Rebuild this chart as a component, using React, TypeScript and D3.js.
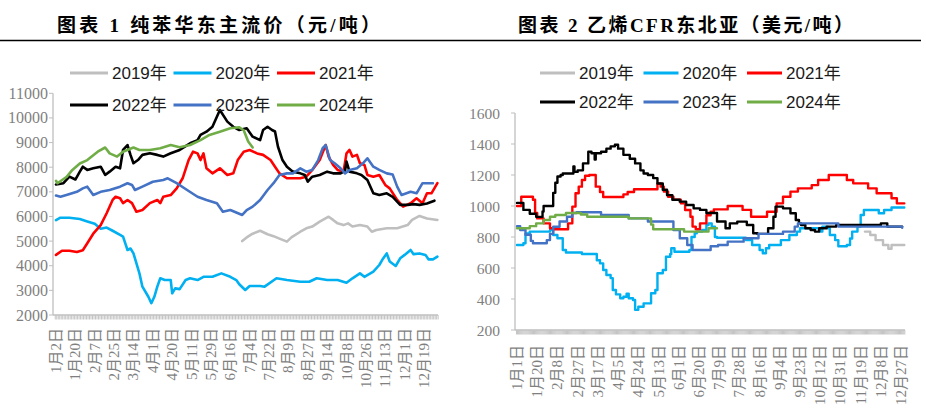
import React from 'react';
import * as d3 from 'd3';

// ---------- shared ----------
const SERIES_NAMES = ['2019年', '2020年', '2021年', '2022年', '2023年', '2024年'];
const SERIES_COLORS = ['#BFBFBF', '#00B0F0', '#FF0000', '#000000', '#4472C4', '#70AD47'];

// ---------- chart 1: benzene East China (trading-day index, value) ----------
const LEFT_X_LABELS = ['1月2日', '1月20日', '2月7日', '2月25日', '3月14日', '4月1日', '4月20日', '5月11日', '5月29日', '6月16日', '7月4日', '7月22日', '8月9日', '8月27日', '9月14日', '10月8日', '10月26日', '11月13日', '12月1日', '12月19日'];
const LEFT_LABEL_STEP = 13;
const LEFT_CATEGORY_COUNT = 257;
const LEFT_Y_TICKS = [2000, 3000, 4000, 5000, 6000, 7000, 8000, 9000, 10000, 11000];

const benzene2019: [number, number][] = [[125, 5000], [128, 5150], [132, 5300], [137, 5420], [142, 5280], [146, 5200], [150, 5100], [155, 4980], [158, 5150], [164, 5380], [168, 5520], [172, 5590], [177, 5790], [183, 5990], [186, 5860], [189, 5720], [193, 5650], [196, 5720], [199, 5590], [204, 5650], [209, 5590], [212, 5380], [215, 5450], [222, 5520], [229, 5520], [236, 5650], [239, 5860], [244, 6020], [249, 5920], [256, 5860]];
const benzene2020: [number, number][] = [[0, 5850], [3, 5950], [9, 5950], [16, 5900], [21, 5800], [26, 5700], [30, 5500], [34, 5550], [38, 5420], [43, 5250], [45, 5180], [48, 4640], [50, 4700], [52, 4500], [54, 4100], [56, 3690], [58, 3150], [62, 2740], [64, 2480], [66, 2740], [68, 3150], [70, 3490], [73, 3420], [77, 3420], [78, 2880], [80, 3080], [83, 3050], [87, 3420], [90, 3490], [95, 3420], [99, 3550], [105, 3550], [111, 3690], [117, 3550], [121, 3420], [123, 3250], [127, 3015], [130, 3180], [137, 3180], [140, 3150], [148, 3490], [155, 3420], [164, 3350], [170, 3350], [175, 3490], [182, 3420], [189, 3420], [195, 3310], [199, 3490], [204, 3690], [207, 3550], [213, 3760], [217, 4030], [219, 4240], [222, 4500], [224, 4170], [228, 3990], [231, 4300], [234, 4440], [238, 4640], [240, 4470], [244, 4500], [248, 4440], [250, 4260], [253, 4260], [256, 4370]];
const benzene2021: [number, number][] = [[0, 4440], [4, 4610], [9, 4610], [14, 4560], [18, 4630], [21, 4910], [25, 5300], [30, 5650], [34, 6130], [38, 6670], [40, 6800], [43, 6740], [45, 6540], [48, 6670], [51, 6540], [54, 6190], [58, 6260], [63, 6540], [68, 6670], [70, 6540], [72, 6800], [77, 6870], [81, 7140], [85, 7550], [89, 8290], [92, 8630], [95, 8560], [97, 8290], [99, 8560], [101, 7955], [105, 7750], [110, 7955], [115, 7685], [119, 7750], [122, 8290], [126, 8630], [130, 8700], [135, 8560], [139, 8500], [144, 8290], [147, 8020], [150, 7750], [155, 7550], [164, 7550], [168, 7615], [172, 7890], [177, 8290], [181, 8900], [183, 8430], [186, 8090], [189, 7890], [193, 7820], [195, 8565], [197, 8700], [199, 8430], [202, 8500], [204, 8160], [207, 8090], [209, 7685], [213, 7615], [217, 7685], [221, 7280], [224, 7140], [229, 6670], [233, 6400], [238, 6540], [242, 6740], [246, 6540], [249, 6940], [252, 6940], [256, 7350]];
const benzene2022: [number, number][] = [[0, 7300], [5, 7350], [9, 7615], [13, 7500], [16, 7820], [18, 8020], [21, 7890], [25, 7955], [30, 8020], [33, 7685], [36, 7820], [40, 8020], [43, 7955], [45, 8700], [48, 8900], [50, 8500], [52, 8160], [55, 8290], [58, 8500], [63, 8565], [68, 8500], [72, 8430], [77, 8565], [83, 8700], [90, 8970], [95, 9100], [97, 9310], [101, 9440], [105, 9640], [110, 10320], [115, 9850], [119, 9640], [123, 9510], [128, 9580], [132, 9240], [137, 9100], [139, 9510], [142, 9640], [145, 9510], [147, 9450], [149, 8830], [152, 8290], [155, 8020], [159, 7820], [164, 7750], [167, 7685], [169, 7410], [172, 7615], [177, 7685], [182, 7820], [186, 7750], [191, 7750], [194, 7850], [195, 8225], [197, 7820], [202, 7750], [205, 7685], [209, 7480], [213, 6940], [217, 6870], [222, 6940], [226, 6800], [231, 6470], [236, 6470], [240, 6500], [244, 6470], [249, 6530], [254, 6640]];
const benzene2023: [number, number][] = [[0, 6850], [3, 6800], [7, 6870], [14, 7000], [18, 7140], [21, 7210], [25, 6870], [30, 7000], [36, 7075], [43, 7210], [48, 7350], [51, 7280], [53, 7075], [58, 7210], [65, 7410], [72, 7480], [75, 7550], [81, 7350], [88, 7075], [95, 6800], [101, 6670], [108, 6535], [112, 6190], [117, 6260], [125, 6060], [128, 6260], [132, 6400], [137, 6670], [142, 7075], [146, 7350], [150, 7685], [155, 7750], [159, 7750], [164, 7955], [168, 7820], [172, 7890], [176, 8290], [179, 8770], [181, 8900], [184, 8290], [187, 8160], [191, 7955], [194, 7750], [197, 7890], [202, 7955], [206, 8160], [209, 8360], [213, 8020], [217, 7890], [222, 7750], [226, 7700], [229, 7210], [232, 6870], [238, 7000], [242, 6940], [246, 7350], [253, 7350]];
const benzene2024: [number, number][] = [[0, 7450], [1, 7350], [7, 7600], [11, 7890], [16, 8150], [21, 8290], [28, 8630], [33, 8800], [36, 8560], [41, 8430], [45, 8630], [52, 8800], [56, 8700], [63, 8700], [70, 8770], [77, 8900], [83, 8810], [90, 8900], [97, 9100], [103, 9310], [110, 9440], [117, 9580], [123, 9620], [126, 9500], [129, 9040], [132, 8800]];

// ---------- chart 2: ethylene CFR NE Asia (day of year, value) ----------
const RIGHT_X_LABELS = ['1月1日', '1月20日', '2月8日', '2月27日', '3月17日', '4月5日', '4月24日', '5月13日', '6月1日', '6月20日', '7月9日', '7月28日', '8月16日', '9月4日', '9月23日', '10月12日', '10月31日', '11月19日', '12月8日', '12月27日'];
const RIGHT_LABEL_STEP = 19;
const RIGHT_DAY_COUNT = 365;
const RIGHT_Y_TICKS = [200, 400, 600, 800, 1000, 1200, 1400, 1600];

const ethylene2019: [number, number][] = [[327, 835], [332, 813], [337, 780], [344, 748], [349, 724], [352, 748], [364, 748]];
const ethylene2020: [number, number][] = [[0, 748], [6, 760], [8, 823], [12, 835], [31, 845], [34, 813], [38, 792], [43, 716], [46, 700], [61, 690], [75, 650], [78, 630], [81, 587], [84, 555], [88, 535], [90, 458], [93, 430], [97, 405], [100, 415], [103, 435], [105, 405], [109, 394], [111, 330], [114, 350], [119, 372], [126, 437], [130, 458], [132, 566], [137, 587], [140, 673], [144, 690], [145, 727], [148, 705], [162, 716], [164, 800], [167, 824], [169, 835], [174, 845], [178, 877], [180, 888], [183, 866], [186, 800], [188, 795], [215, 780], [221, 748], [228, 716], [231, 695], [234, 727], [237, 748], [248, 780], [256, 813], [263, 835], [266, 856], [285, 835], [287, 867], [292, 856], [294, 813], [299, 780], [302, 740], [310, 748], [313, 790], [315, 835], [320, 867], [323, 942], [326, 974], [340, 953], [345, 974], [352, 990], [364, 990]];
const ethylene2021: [number, number][] = [[0, 1000], [4, 1060], [15, 1040], [17, 955], [19, 920], [25, 888], [31, 856], [34, 850], [48, 888], [52, 996], [55, 1082], [58, 1125], [61, 1168], [64, 1195], [68, 1200], [74, 1125], [78, 1090], [81, 1058], [100, 1075], [104, 1090], [110, 1108], [132, 1146], [135, 1125], [138, 1093], [142, 1060], [147, 1040], [154, 1017], [158, 974], [163, 931], [165, 867], [168, 850], [172, 888], [178, 940], [182, 963], [185, 978], [198, 1000], [212, 975], [220, 931], [235, 963], [244, 1017], [250, 1060], [257, 1093], [264, 1114], [277, 1135], [283, 1168], [293, 1200], [310, 1168], [316, 1146], [330, 1114], [338, 1082], [352, 1050], [357, 1017], [364, 1017]];
const ethylene2022: [number, number][] = [[0, 1020], [6, 975], [12, 950], [18, 930], [24, 965], [25, 1000], [34, 1085], [36, 1150], [38, 1190], [41, 1200], [43, 1210], [53, 1255], [54, 1220], [57, 1230], [62, 1275], [67, 1350], [70, 1340], [73, 1300], [74, 1340], [79, 1350], [84, 1370], [88, 1385], [92, 1395], [95, 1370], [100, 1330], [106, 1305], [111, 1275], [116, 1230], [119, 1210], [123, 1200], [128, 1180], [132, 1145], [137, 1105], [141, 1070], [146, 1040], [153, 1028], [159, 1006], [166, 985], [172, 975], [178, 955], [188, 900], [196, 856], [200, 888], [207, 899], [216, 877], [222, 824], [226, 820], [236, 856], [241, 931], [243, 996], [250, 985], [257, 953], [262, 910], [265, 888], [267, 877], [271, 856], [276, 845], [280, 835], [284, 856], [291, 867], [300, 877], [342, 888], [348, 867], [362, 867]];
const ethylene2023: [number, number][] = [[0, 870], [3, 845], [8, 815], [13, 775], [15, 760], [28, 780], [31, 820], [34, 866], [40, 900], [47, 931], [52, 955], [56, 960], [79, 942], [105, 920], [123, 900], [147, 845], [153, 792], [160, 748], [165, 716], [182, 740], [189, 748], [198, 770], [213, 792], [227, 820], [250, 835], [261, 867], [264, 888], [302, 867], [362, 860]];
const ethylene2024: [number, number][] = [[0, 856], [12, 870], [18, 888], [25, 910], [31, 931], [36, 942], [46, 955], [60, 945], [66, 931], [105, 920], [126, 880], [128, 850], [157, 835], [180, 856], [188, 856]];

const LEFT_SERIES = [benzene2019, benzene2020, benzene2021, benzene2022, benzene2023, benzene2024];
const RIGHT_SERIES = [ethylene2019, ethylene2020, ethylene2021, ethylene2022, ethylene2023, ethylene2024];

const SERIF = '"Liberation Serif", "Times New Roman", "Noto Sans CJK SC", serif';
const SANS = '"Liberation Sans", Arial, "Noto Sans CJK SC", sans-serif';
const AXIS_GRAY = '#BFBFBF';
const LABEL_GRAY = '#7F7F7F';

type PanelProps = {
  title: string;
  titleX: number;
  titleLen: number;
  series: [number, number][][];
  xScale: d3.ScaleLinear<number, number>;
  yScale: d3.ScaleLinear<number, number>;
  categoryCount: number;
  xLabels: string[];
  labelStep: number;
  yTicks: number[];
  axisLeft: number;
  axisRight: number;
  yLabelRight: number;
  yFont: number;
  xLabelGap: number;
  legendX: number;
  legendRows: number[];
  legendLine: number;
  step: boolean;
  strokeWidth: number;
};

function Panel(p: PanelProps) {
  const [y0, y1] = p.yScale.range();
  const line = d3
    .line<[number, number]>()
    .x((d) => p.xScale(d[0]))
    .y((d) => p.yScale(d[1]));
  if (p.step) line.curve(d3.curveStepAfter);
  const ticks = d3.range(p.categoryCount + 1).map((i) => p.xScale(i - 0.5));
  return (
    <g>
      <text x={p.titleX} y={25} dominantBaseline="central" fontFamily={SERIF} fontWeight="bold" fontSize={19} textLength={p.titleLen} lengthAdjust="spacing" fill="#000">
        {p.title}
      </text>
      {/* axes */}
      <line x1={p.axisLeft} x2={p.axisLeft} y1={y1} y2={y0} stroke={AXIS_GRAY} strokeWidth={1.3} />
      <line x1={p.axisLeft} x2={p.axisRight} y1={y0} y2={y0} stroke={AXIS_GRAY} strokeWidth={1.3} />
      {ticks.map((x, i) => (
        <line key={'t' + i} x1={x} x2={x} y1={y0} y2={y0 + 4.5} stroke="#C4C4C4" strokeWidth={1} />
      ))}
      {p.yTicks.map((v) => (
        <g key={'y' + v}>
          <line x1={p.axisLeft - 4} x2={p.axisLeft} y1={p.yScale(v)} y2={p.yScale(v)} stroke={AXIS_GRAY} strokeWidth={1} />
          <text x={p.yLabelRight} y={p.yScale(v)} textAnchor="end" dominantBaseline="central" fontFamily={SERIF} fontSize={p.yFont} fill={LABEL_GRAY}>
            {v}
          </text>
        </g>
      ))}
      {p.xLabels.map((lab, k) => {
        const x = p.xScale(k * p.labelStep);
        const y = y0 + p.xLabelGap;
        return (
          <text key={'x' + k} transform={`translate(${x},${y}) rotate(-90)`} textAnchor="end" dominantBaseline="central" fontFamily={SERIF} fontSize={15} fill={LABEL_GRAY}>
            {lab}
          </text>
        );
      })}
      {/* series */}
      {p.series.map((s, k) => (
        <path key={'s' + k} d={line(s) || ''} fill="none" stroke={SERIES_COLORS[k]} strokeWidth={p.strokeWidth} strokeLinejoin="round" strokeLinecap="round" />
      ))}
      {/* legend */}
      {SERIES_NAMES.map((name, k) => {
        const col = k % 3;
        const row = Math.floor(k / 3);
        const lx = p.legendX + col * 103.5;
        const ly = p.legendRows[row];
        return (
          <g key={'l' + k}>
            <line x1={lx} x2={lx + p.legendLine} y1={ly} y2={ly} stroke={SERIES_COLORS[k]} strokeWidth={3} />
            <text x={lx + p.legendLine + 4} y={ly} dominantBaseline="central" fontFamily={SANS} fontSize={17} fill="#1a1a1a">
              {name}
            </text>
          </g>
        );
      })}
    </g>
  );
}

export default function App() {
  const leftX = d3.scaleLinear().domain([0, LEFT_CATEGORY_COUNT - 1]).range([56, 437.4]);
  const leftY = d3.scaleLinear().domain([2000, 11000]).range([315, 93.3]);
  const rightX = d3.scaleLinear().domain([0, RIGHT_DAY_COUNT - 1]).range([517, 904.3]);
  const rightY = d3.scaleLinear().domain([200, 1600]).range([330, 113]);
  return (
    <svg width={926} height={411} style={{ position: 'absolute', left: 0, top: 0, background: '#fff' }}>
      <rect x={0} y={0} width={926} height={411} fill="#fff" />
      <line x1={0} x2={921} y1={40.5} y2={40.5} stroke="#000" strokeWidth={1.3} />
      <Panel
        title="图表 1 纯苯华东主流价（元/吨）"
        titleX={57}
        titleLen={323}
        series={LEFT_SERIES}
        xScale={leftX}
        yScale={leftY}
        categoryCount={LEFT_CATEGORY_COUNT}
        xLabels={LEFT_X_LABELS}
        labelStep={LEFT_LABEL_STEP}
        yTicks={LEFT_Y_TICKS}
        axisLeft={53}
        axisRight={438}
        yLabelRight={48}
        yFont={16}
        xLabelGap={13}
        legendX={70}
        legendRows={[73, 105]}
        legendLine={38}
        step={false}
        strokeWidth={2.6}
      />
      <Panel
        title="图表 2 乙烯CFR东北亚（美元/吨）"
        titleX={518}
        titleLen={335}
        series={RIGHT_SERIES}
        xScale={rightX}
        yScale={rightY}
        categoryCount={RIGHT_DAY_COUNT}
        xLabels={RIGHT_X_LABELS}
        labelStep={RIGHT_LABEL_STEP}
        yTicks={RIGHT_Y_TICKS}
        axisLeft={515}
        axisRight={905}
        yLabelRight={500}
        yFont={15.5}
        xLabelGap={15}
        legendX={540}
        legendRows={[73, 102]}
        legendLine={35}
        step={true}
        strokeWidth={2.4}
      />
    </svg>
  );
}
